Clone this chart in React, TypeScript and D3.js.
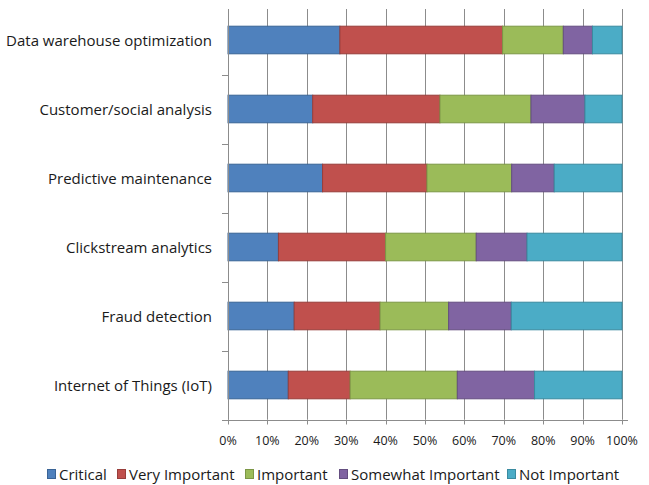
import React from "react";
import * as d3 from "d3";

const categories = [
  "Data warehouse optimization",
  "Customer/social analysis",
  "Predictive maintenance",
  "Clickstream analytics",
  "Fraud detection",
  "Internet of Things (IoT)",
];

const seriesNames = ["Critical", "Very Important", "Important", "Somewhat Important", "Not Important"];

// Share of respondents per rating, in percent, one array per rating.
const critical = [28.4, 21.5, 24.0, 12.8, 16.8, 15.3];
const veryImportant = [41.3, 32.3, 26.5, 27.2, 21.8, 15.7];
const important = [15.4, 23.1, 21.5, 23.0, 17.4, 27.2];
const somewhatImportant = [7.4, 13.7, 10.8, 12.9, 15.9, 19.6];
const notImportant = [7.5, 9.4, 17.2, 24.1, 28.1, 22.2];

const xTicks = [0, 10, 20, 30, 40, 50, 60, 70, 80, 90, 100];

const fills = ["#4F81BD", "#C0504D", "#9BBB59", "#8064A2", "#4BACC6"];
const strokes = ["#3A6496", "#983E3B", "#7C9746", "#644E80", "#3A8BA0"];

const W = 649;
const H = 485;
const FONT = "'Open Sans', Lato, sans-serif";

export default function App() {
  const seriesValues = [critical, veryImportant, important, somewhatImportant, notImportant];
  const rows = categories.map((c, i) => {
    const r: Record<string, any> = { category: c };
    seriesNames.forEach((s, k) => (r[s] = seriesValues[k][i]));
    return r;
  });
  const stacked = d3.stack<any>().keys(seriesNames)(rows);

  const x = d3.scaleLinear().domain([0, 100]).range([228, 622]);
  const y = d3
    .scaleBand<string>()
    .domain(categories)
    .range([5.5, 419.5])
    .paddingInner(0.6)
    .paddingOuter(0.3);

  const plotTop = 9;
  const plotBottom = 419.5;
  const step = y.step();
  const boundaries = d3.range(categories.length).map((i) => 5.5 + step * (i + 1));

  const legendX = [47, 117, 245, 339, 507];

  return (
    <svg
      width={W}
      height={H}
      style={{ position: "absolute", left: 0, top: 0, background: "#fff" }}
      fontFamily={FONT}
    >
      <rect width={W} height={H} fill="#fff" />
      {/* vertical gridlines */}
      {xTicks.map((t) => (
        <line
          key={"g" + t}
          x1={Math.round(x(t)) + 0.5}
          x2={Math.round(x(t)) + 0.5}
          y1={plotTop}
          y2={plotBottom}
          stroke="#8C8C8C"
          strokeWidth={1}
        />
      ))}
      {/* bottom tick marks */}
      {xTicks.map((t) => (
        <line
          key={"t" + t}
          x1={Math.round(x(t)) + 0.5}
          x2={Math.round(x(t)) + 0.5}
          y1={plotBottom}
          y2={plotBottom + 5}
          stroke="#8C8C8C"
        />
      ))}
      {/* category axis tick marks */}
      {boundaries.map((b, i) => (
        <line key={"b" + i} x1={222} x2={228} y1={Math.round(b) + 0.5} y2={Math.round(b) + 0.5} stroke="#8C8C8C" />
      ))}
      <line x1={222} x2={628} y1={Math.round(plotBottom) + 0.5} y2={Math.round(plotBottom) + 0.5} stroke="#8C8C8C" />
      {/* stacked bars */}
      {stacked.map((layer, k) =>
        layer.map((d, i) => (
          <rect
            key={k + "-" + i}
            x={x(d[0])}
            y={y(categories[i])!}
            width={x(d[1]) - x(d[0])}
            height={y.bandwidth()}
            fill={fills[k]}
            stroke={strokes[k]}
            strokeWidth={1}
          />
        ))
      )}
      <line x1={228.5} x2={228.5} y1={plotTop} y2={plotBottom} stroke="#8C8C8C" />
      {/* category labels */}
      {categories.map((c) => (
        <text
          key={c}
          x={212}
          y={y(c)! + y.bandwidth() / 2}
          textAnchor="end"
          dominantBaseline="central"
          fontSize={15}
          fill="#1a1a1a"
        >
          {c}
        </text>
      ))}
      {/* percent labels */}
      {xTicks.map((t) => (
        <text key={"l" + t} x={x(t)} y={440} textAnchor="middle" dominantBaseline="central" fontSize={12.5} fill="#1a1a1a">
          {t + "%"}
        </text>
      ))}
      {/* legend */}
      {seriesNames.map((s, k) => (
        <g key={s} transform={`translate(${legendX[k]},474)`}>
          <rect x={0.5} y={-4.5} width={8} height={9} fill={fills[k]} stroke={strokes[k]} />
          <text x={12} y={0} dominantBaseline="central" fontSize={15} fill="#1a1a1a">
            {s}
          </text>
        </g>
      ))}
    </svg>
  );
}
